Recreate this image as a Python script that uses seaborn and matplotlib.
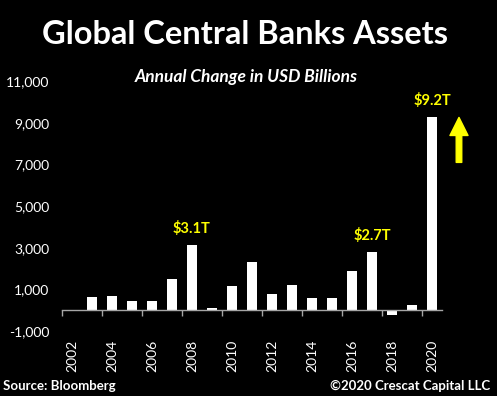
import numpy as np
import pandas as pd
import matplotlib
matplotlib.use("Agg")
import matplotlib.pyplot as plt
import seaborn as sns

# ------------------------------
# Data (USD billions)
# ------------------------------
years = [str(y) for y in range(2002, 2021)]
changes = [np.nan, 640, 670, 420, 465, 1520, 3150, 130, 1150, 2320,
           770, 1230, 610, 610, 1870, 2820, -225, 255, 9290]
callout_years = ["2008", "2017", "2020"]
callout_text = ["$3.1T", "$2.7T", "$9.2T"]
y_ticks = list(range(-1000, 11001, 2000))

df = pd.DataFrame({"year": years, "change": changes})

# ------------------------------
# Style
# ------------------------------
sns.set_style("dark", {"axes.facecolor": "black", "figure.facecolor": "black"})
plt.rcParams["font.family"] = ["Lato", "DejaVu Sans"]

yellow = "#FFFF00"
grey = "#a6a6a6"

fig = plt.figure(figsize=(4.97, 3.96), dpi=100, facecolor="black")
ax = fig.add_axes([0.1247, 0.164, 0.7646, 0.631])
ax.set_facecolor("black")

sns.barplot(data=df, x="year", y="change", color="white", saturation=1,
            width=0.48, linewidth=0, ax=ax)

ax.set_ylim(-1000, 11000)
ax.set_xlim(-0.5, 18.5)
ax.set_xlabel("")
ax.set_ylabel("")
ax.grid(False)

# y axis
ax.set_yticks(y_ticks)
ax.set_yticklabels([f"{v:,}" for v in y_ticks])
ax.tick_params(axis="y", length=0, pad=9, colors="white", labelsize=10)

# x axis: line at zero with boundary ticks, labels below the plot
for side in ["left", "right", "top"]:
    ax.spines[side].set_visible(False)
ax.spines["bottom"].set_position(("data", 0))
ax.spines["bottom"].set_color(grey)
ax.spines["bottom"].set_linewidth(1)
ax.set_xticks(range(0, len(years), 2))
ax.set_xticklabels(years[::2], rotation=90)
ax.set_xticks(np.arange(-0.5, len(years), 2), minor=True)
ax.tick_params(axis="x", which="major", length=0, pad=21, colors="white",
               labelsize=10)
ax.tick_params(axis="x", which="minor", length=4, width=1, color=grey,
               direction="out", bottom=True)

# callouts
for yr, txt in zip(callout_years, callout_text):
    i = years.index(yr)
    ax.annotate(txt, xy=(i, changes[i]), xytext=(0, 6),
                textcoords="offset points", ha="center", va="bottom",
                color=yellow, fontsize=10.5, fontweight="bold")

# yellow arrow to the right of 2020
ax.annotate("", xy=(19.35, 9260), xytext=(19.35, 7100),
            arrowprops=dict(width=4, headwidth=13, headlength=13,
                            color=yellow, shrink=0),
            annotation_clip=False)

# ------------------------------
# Titles and notes
# ------------------------------
fig.text(0.493, 1 - 35 / 396, "Global Central Banks Assets", ha="center",
         va="center", color="white", fontsize=23.5, fontweight="bold")
fig.text(246 / 497, 1 - 77 / 396, "Annual Change in USD Billions",
         ha="center", va="center", color="white", fontsize=12.5,
         fontweight="bold", style="italic")
fig.text(0.006, 1 - 386 / 396, "Source: Bloomberg", ha="left", va="center",
         color="white", fontsize=9.5, fontweight="bold")
fig.text(0.986, 1 - 386 / 396, "\u00a92020 Crescat Capital LLC", ha="right",
         va="center", color="white", fontsize=9.5, fontweight="bold")

fig.savefig("out.png", dpi=100, facecolor="black")
